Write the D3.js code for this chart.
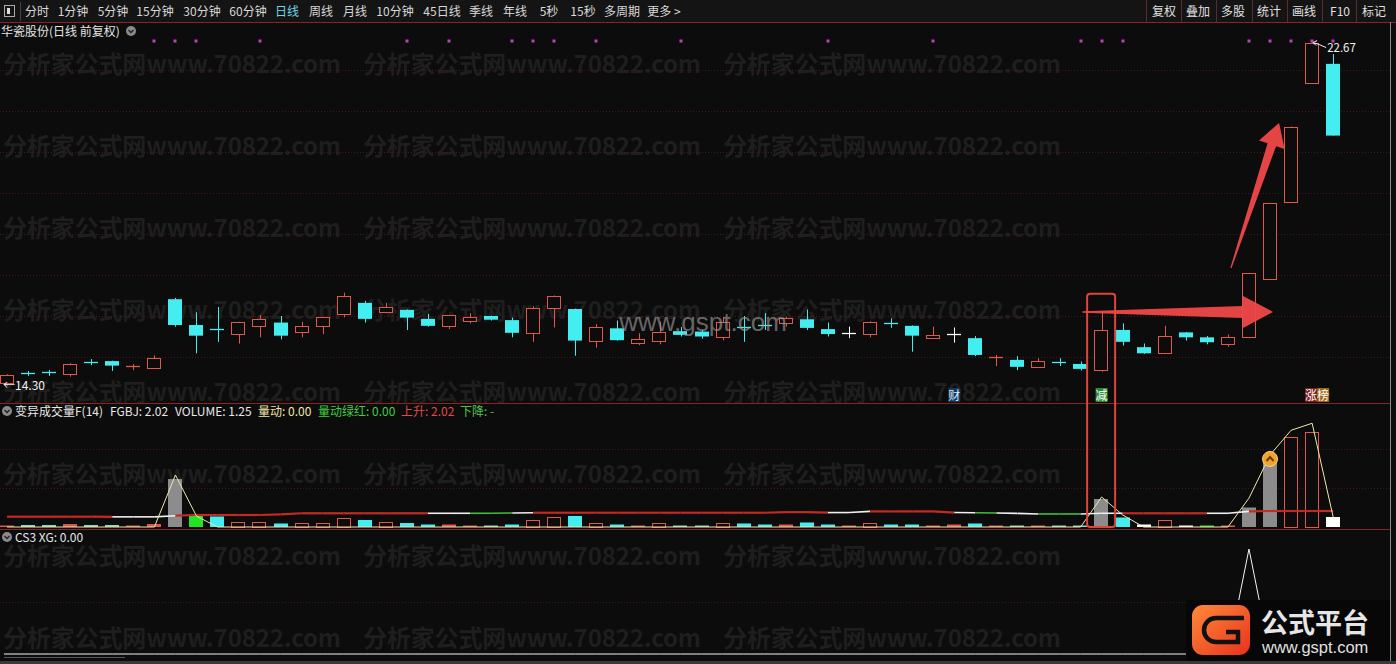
<!DOCTYPE html>
<html><head><meta charset="utf-8">
<script src="https://cdn.jsdelivr.net/npm/d3@7"></script>
<style>html,body{margin:0;padding:0;background:#0c0c0c;overflow:hidden}svg{display:block}</style>
</head><body>
<svg id="c" width="1396" height="664"></svg>
<script>
// ---------------- DATA ----------------
const openP  = [14.37,14.61,14.63,14.60,14.89,14.90,14.76,14.72,16.41,15.78,15.69,15.55,15.76,15.84,15.62,15.76,16.07,16.32,16.10,16.15,15.93,15.74,15.89,16.00,15.90,15.58,16.19,16.17,15.37,15.70,15.35,15.41,15.63,15.62,15.50,15.73,15.79,15.82,15.92,15.68,15.59,15.56,15.83,15.76,15.46,15.56,15.46,14.98,14.93,14.75,14.89,14.83,14.68,15.66,15.24,15.09,15.60,15.48,15.33,15.49,16.90,18.79,21.68,22.15];
const highP  = [14.58,14.66,14.68,14.85,14.95,14.91,14.83,15.04,16.44,16.09,16.22,15.86,16.02,16.00,15.86,15.98,16.57,16.37,16.32,16.16,16.05,16.03,16.07,16.01,15.96,16.24,16.50,16.18,15.80,15.89,15.58,15.86,15.73,15.66,15.97,16.00,16.07,15.98,16.16,15.84,15.74,15.87,15.94,15.77,15.74,15.72,15.51,15.05,15.02,14.97,14.97,14.89,16.10,15.82,15.33,15.76,15.61,15.51,15.55,17.05,18.76,20.62,22.67,22.39];
const lowP   = [14.30,14.54,14.54,14.52,14.80,14.66,14.68,14.72,15.74,15.09,15.37,15.33,15.48,15.43,15.48,15.56,15.97,15.84,16.07,15.66,15.74,15.68,15.82,15.89,15.48,15.37,15.72,15.03,15.23,15.40,15.29,15.31,15.50,15.45,15.41,15.37,15.66,15.74,15.66,15.50,15.46,15.48,15.71,15.13,15.45,15.35,15.02,14.78,14.68,14.74,14.78,14.67,14.64,15.28,15.08,15.08,15.40,15.31,15.25,15.46,16.90,18.79,21.68,20.40];
const closeP = [14.56,14.60,14.62,14.84,14.88,14.79,14.78,14.97,15.78,15.52,15.68,15.85,15.92,15.52,15.76,15.97,16.50,15.93,16.21,15.96,15.76,16.02,15.98,15.91,15.59,16.19,16.49,15.40,15.72,15.41,15.44,15.62,15.54,15.50,15.86,15.71,15.77,15.94,15.71,15.56,15.59,15.86,15.81,15.52,15.54,15.56,15.05,15.00,14.76,14.90,14.88,14.71,15.66,15.37,15.09,15.51,15.48,15.36,15.50,17.05,18.76,20.62,22.65,20.40];
const priceGrid = [15,16,17,18,19,20,21,22];
const signalDots = [7,8,9,12,19,21,24,25,26,28,32,39,44,51,52,53,59,60,61,62,63];
const eventIdx  = [45,52,62];
const eventText = ["财","减","涨榜"];

const volume = [0.19,0.26,0.26,0.38,0.26,0.26,0.19,0.38,6.15,1.54,1.35,0.64,0.64,0.45,0.45,0.51,1.15,0.90,0.64,0.51,0.32,0.32,0.19,0.19,0.32,0.90,1.28,1.41,0.45,0.32,0.19,0.45,0.19,0.19,0.51,0.45,0.32,0.32,0.58,0.32,0.19,0.45,0.32,0.32,0.19,0.32,0.45,0.19,0.19,0.13,0.19,0.19,3.59,1.22,0.32,0.90,0.19,0.19,0.13,2.50,8.85,11.54,12.18,1.28];
const volType = ["up","pale","pale","up","pale","pale","upf","up","big","grn",
 "down","up","up","down","up","up","up","down","up","down",
 "down","up","upf","pale","down","up","up","down","up","down",
 "upf","up","pale","pale","up","down","down","up","down","down",
 "upf","up","down","down","upf","up","down","upf","pale","upf",
 "pale","pale","big","down","wht","up","wht","grn","upf","big",
 "big","up","up","wht"];
const volMA = [1.32,1.32,1.32,1.32,1.32,1.30,1.30,1.30,1.45,1.54,1.54,1.54,1.54,1.62,1.76,1.76,1.76,1.76,1.76,1.76,1.76,1.76,1.76,1.76,1.80,1.83,1.83,1.83,1.83,1.83,1.83,1.83,1.83,1.83,1.83,1.83,1.83,1.90,1.90,1.85,1.85,2.00,2.00,2.00,2.00,1.85,1.83,1.80,1.75,1.67,1.67,1.67,1.76,1.76,1.76,1.76,1.76,1.76,1.76,2.00,2.05,2.05,2.05,2.05];
const volMAColor = ["r","r","r","r","r","r","w","w","w","r","r","r","r","r","r","r","r","r","r","r","r","w","w","g","g","w","r","r","r","r","r","r","r","r","r","r","r","r","r","r","w","w","r","r","r","r","w","g","w","w","g","g","w","w","r","r","r","r","w","w","r","r","r","r"];
const ratioLine = [0,0,0,0,0,0,0,0,6.67,1.4,0,0,0,0,0,0,0,0,0,0,0,0,0,0,0,0,0,0,0,0,0,0,0,0,0,0,0,0,0,0,0,0,0,0,0,0,0,0,0,0,0,0,3.85,1.54,0,0,0,0,0,3.7,9.23,12.4,13.3,1.28];
const volGrid = [5,10];
const volSignalIdx = [60];
const cs3 = [0,0,0,0,0,0,0,0,0,0,0,0,0,0,0,0,0,0,0,0,0,0,0,0,0,0,0,0,0,0,0,0,0,0,0,0,0,0,0,0,0,0,0,0,0,0,0,0,0,0,0,0,0,0,0,0,0,0,0,1,0,0,0,0];
const cs3Grid = [0.5];

const periodTabs = ["分时","1分钟","5分钟","15分钟","30分钟","60分钟","日线","周线","月线","10分钟","45日线","季线","年线","5秒","15秒","多周期","更多 >"];
const toolTabs = ["复权","叠加","多股","统计","画线","F10","标记"];
const watermark = "分析家公式网www.70822.com";

// ---------------- LAYOUT ----------------
const W=1396, BG="#0c0c0c", UP="#e0584c", DOWN="#44eef0", FLAT="#ffffff";
const FONT="'Noto Sans CJK SC','Noto Sans',sans-serif";
const tabX = [37,73,113,155,202,248,287,321,355,395,442,481,515,549,583,622,664];
const toolX = [1164,1198,1233,1269,1304,1340,1374];
const toolSep = [1146,1181,1216,1252,1287,1322,1356];

const svg = d3.select("#c");
svg.append("rect").attr("width",W).attr("height",664).attr("fill",BG);

const n = openP.length;
const x = d3.scaleBand().domain(d3.range(n)).range([-3.5,1343.7]).paddingInner(0.32).paddingOuter(0.16);
const cx = i => x(i) + x.bandwidth()/2;
const yP = d3.scaleLinear().domain([15,22]).range([357,70]);
const yV = d3.scaleLinear().domain([0,15]).range([527,410]);
const yC = d3.scaleLinear().domain([0,1]).range([654,549]);

// watermarks
const wm = svg.append("g").attr("font-family",FONT).attr("font-size",24).attr("fill","#1e1e1e").attr("font-weight","bold");
for (let r=0;r<8;r++) for (let c=0;c<3;c++)
  wm.append("text").attr("x",3+c*360).attr("y",64+r*82+9).attr("textLength",338).text(watermark);

// toolbar
svg.append("rect").attr("x",0).attr("y",0).attr("width",W).attr("height",22).attr("fill","#141414");
svg.append("line").attr("x1",0).attr("x2",W).attr("y1",22.5).attr("y2",22.5).attr("stroke","#8a2424");
svg.append("rect").attr("x",4.5).attr("y",5.5).attr("width",10).attr("height",11).attr("fill","none").attr("stroke","#aaa");
svg.append("rect").attr("x",7).attr("y",8).attr("width",3).attr("height",6).attr("fill","#ddd");
svg.append("line").attr("x1",20.5).attr("x2",20.5).attr("y1",2).attr("y2",21).attr("stroke","#444");
svg.append("g").attr("font-family",FONT).attr("font-size",12).attr("text-anchor","middle")
 .selectAll("text").data(periodTabs).join("text")
 .attr("x",(d,i)=>tabX[i]).attr("y",16).attr("fill",d=>d==="日线"?"#6fd6e8":"#d8d8d8").text(d=>d);
svg.append("g").selectAll("line").data(toolSep).join("line")
 .attr("x1",d=>d+0.5).attr("x2",d=>d+0.5).attr("y1",0).attr("y2",22).attr("stroke","#5a2c2c");
svg.append("g").attr("font-family",FONT).attr("font-size",12).attr("text-anchor","middle")
 .selectAll("text").data(toolTabs).join("text")
 .attr("x",(d,i)=>toolX[i]).attr("y",16).attr("fill","#e0e0e0").text(d=>d);

// panel separators
[403.5,529.5].forEach(y=>svg.append("line").attr("x1",0).attr("x2",1390).attr("y1",y).attr("y2",y).attr("stroke","#8a2424"));
svg.append("line").attr("x1",1390.5).attr("x2",1390.5).attr("y1",22).attr("y2",661).attr("stroke","#8a8a8a");
svg.append("rect").attr("x",0).attr("y",661).attr("width",W).attr("height",3).attr("fill","#3a3a3a");

// gridlines
const grid = svg.append("g").attr("stroke","#4a1818").attr("stroke-dasharray","1,2");
priceGrid.forEach(p=>grid.append("line").attr("x1",0).attr("x2",1390).attr("y1",Math.round(yP(p))+0.5).attr("y2",Math.round(yP(p))+0.5));
volGrid.forEach(v=>grid.append("line").attr("x1",0).attr("x2",1390).attr("y1",Math.round(yV(v))+0.5).attr("y2",Math.round(yV(v))+0.5));
cs3Grid.forEach(v=>grid.append("line").attr("x1",0).attr("x2",1390).attr("y1",Math.round(yC(v))+0.5).attr("y2",Math.round(yC(v))+0.5));

// titles
function icon(g,xx,yy){
  g.append("circle").attr("cx",xx).attr("cy",yy).attr("r",5).attr("fill","#8a8a8a");
  g.append("path").attr("d",`M${xx-2.5},${yy-1}L${xx},${yy+1.5}L${xx+2.5},${yy-1}`).attr("fill","none").attr("stroke","#222").attr("stroke-width",1.4);
}
svg.append("text").attr("x",1).attr("y",36).attr("font-family",FONT).attr("font-size",12).attr("fill","#e4e4e4").text("华瓷股份(日线 前复权)");
icon(svg,131,31);
const vt = [["变异成交量F(14)",15,"#e8e8e8"],["FGBJ: 2.02",110,"#e8e8e8"],["VOLUME: 1.25",175,"#e8e8e8"],["量动: 0.00",258,"#f2e6a6"],["量动绿红: 0.00",318,"#3fcf3f"],["上升: 2.02",401,"#e04a4a"],["下降: -",460,"#4fc34f"]];
icon(svg,7,411);
vt.forEach(t=>svg.append("text").attr("x",t[1]).attr("y",416).attr("font-family",FONT).attr("font-size",12).attr("fill",t[2]).text(t[0]));
icon(svg,7,537);
svg.append("text").attr("x",15).attr("y",542).attr("font-family",FONT).attr("font-size",12).attr("fill","#e8e8e8").text("CS3 XG: 0.00");

// signal dots
svg.append("g").selectAll("rect").data(signalDots).join("rect")
 .attr("x",i=>Math.round(cx(i))-1.5).attr("y",39.5).attr("width",3).attr("height",3).attr("fill","#c23cc2");

// candles
const cg = svg.append("g");
const bw = x.bandwidth();
for (let i=0;i<n;i++){
  const o=openP[i], c=closeP[i], col = c>o?UP:(c<o?DOWN:FLAT);
  const xc = Math.round(cx(i))+0.5;
  cg.append("line").attr("x1",xc).attr("x2",xc).attr("y1",yP(highP[i])).attr("y2",yP(lowP[i])).attr("stroke",col);
  const top=yP(Math.max(o,c)), bot=yP(Math.min(o,c));
  const x0 = Math.round(x(i));
  if (bot-top < 1.5){
    cg.append("line").attr("x1",x0).attr("x2",x0+Math.round(bw)).attr("y1",Math.round((top+bot)/2)+0.5).attr("y2",Math.round((top+bot)/2)+0.5).attr("stroke",col).attr("stroke-width",1.3);
  } else if (c>o){
    cg.append("rect").attr("x",x0+0.5).attr("y",Math.round(top)+0.5).attr("width",Math.round(bw)-1).attr("height",Math.round(bot-top)).attr("fill",BG).attr("stroke",col);
  } else {
    cg.append("rect").attr("x",x0).attr("y",top).attr("width",Math.round(bw)).attr("height",bot-top).attr("fill",col);
  }
}
// high / low markers
const hiI = d3.maxIndex(highP), loI = d3.minIndex(lowP);
svg.append("text").attr("x",Math.max(2,cx(loI)-4)).attr("y",yP(lowP[loI])+4).attr("font-family",FONT).attr("font-size",12).attr("fill","#f0f0f0").text("←"+lowP[loI].toFixed(2));
const hx = cx(hiI)+1, hy = yP(highP[hiI]);
svg.append("path").attr("d",`M${hx+13},${hy+5}L${hx+6},${hy+2}L${hx},${hy}M${hx},${hy}L${hx+4},${hy-2}M${hx},${hy}L${hx+3},${hy+3}`).attr("stroke","#f0f0f0").attr("fill","none");
svg.append("text").attr("x",hx+14).attr("y",hy+9).attr("font-family",FONT).attr("font-size",11.5).attr("fill","#f0f0f0").text(highP[hiI].toFixed(2));

// event labels
const evBg = {"财":"#16385a","减":"#2e8a2e","涨":"#7a2020","榜":"#9a6a1a"};
const evFg = {"财":"#d8f0ff","减":"#ffffff","涨":"#ffffff","榜":"#ffffff"};
eventIdx.forEach((idx,k)=>{
  const chars = eventText[k].split("");
  const startX = cx(idx) - (chars.length>1 ? 1 : 0) - 6;
  chars.forEach((ch,j)=>{
    const xx = startX + j*12;
    svg.append("rect").attr("x",xx).attr("y",388).attr("width",12).attr("height",14).attr("fill",evBg[ch]);
    svg.append("text").attr("x",xx+6).attr("y",400).attr("text-anchor","middle").attr("font-family",FONT).attr("font-size",12).attr("fill",evFg[ch]).text(ch);
  });
});

// gspt watermark
svg.append("text").attr("x",703).attr("y",331).attr("text-anchor","middle").attr("font-family","'Liberation Sans',Arial,sans-serif").attr("font-size",26).attr("fill","#a0a0a0").attr("opacity",0.6).text("www.gspt.com");

// volume bars
const VC = {up:UP, upf:"#d8604f", down:DOWN, pale:"#8fd6bf", big:"#8c8c8c", grn:"#22e622", wht:"#ffffff"};
const vg = svg.append("g");
for (let i=0;i<n;i++){
  const t = volType[i], top = yV(volume[i]), h = Math.max(1.5, 527-top);
  const x0 = Math.round(x(i));
  if (t==="up" && h>3){
    vg.append("rect").attr("x",x0+0.5).attr("y",Math.round(527-h)+0.5).attr("width",Math.round(bw)-1).attr("height",Math.round(h)).attr("fill",BG).attr("stroke",VC[t]);
  } else {
    vg.append("rect").attr("x",x0).attr("y",527-h).attr("width",Math.round(bw)).attr("height",h).attr("fill",VC[t]);
  }
}
// MA line coloured per segment
const MC = {r:"#c42a24", w:"#f0f0f0", g:"#3fbf3f"};
for (let i=1;i<n;i++){
  vg.append("line").attr("x1",cx(i-1)).attr("x2",cx(i)).attr("y1",yV(volMA[i-1])).attr("y2",yV(volMA[i]))
    .attr("stroke",MC[volMAColor[i]]).attr("stroke-width",volMAColor[i]==="r"?2.2:1.6);
}
// ratio line
vg.append("path").datum(ratioLine).attr("fill","none").attr("stroke","#efe7ad").attr("stroke-width",1)
  .attr("d",d3.line().x((d,i)=>cx(i)).y(d=>yV(d)));
// signal icon
volSignalIdx.forEach(i=>{
  const xx=cx(i), yy=yV(volume[i]);
  vg.append("circle").attr("cx",xx).attr("cy",yy+1).attr("r",7.5).attr("fill","#f0a428").attr("stroke","#ffd27a").attr("stroke-width",1);
  vg.append("path").attr("d",`M${xx-3.5},${yy+3}L${xx},${yy-1}L${xx+3.5},${yy+3}`).attr("fill","none").attr("stroke","#6a3a00").attr("stroke-width",2);
});

// CS3 line
svg.append("path").datum(cs3).attr("fill","none").attr("stroke","#f4f4f4").attr("stroke-width",1)
  .attr("d",d3.line().x((d,i)=>cx(i)).y(d=>yC(d)));
svg.append("line").attr("x1",4).attr("x2",cx(0)).attr("y1",yC(0)).attr("y2",yC(0)).attr("stroke","#f4f4f4");
svg.append("line").attr("x1",4).attr("x2",125).attr("y1",657.5).attr("y2",657.5).attr("stroke","#555");

// annotations: box + arrows
const boxI = 52;
svg.append("rect").attr("x",cx(boxI)-14.5).attr("y",yP(16.54)).attr("width",28).attr("height",527-yP(16.54))
  .attr("rx",3).attr("fill","none").attr("stroke","#e0443c").attr("stroke-width",2);
function arrow(x1,y1,x2,y2,tw,sw,hw,hl){
  const dx=x2-x1, dy=y2-y1, L=Math.hypot(dx,dy), ux=dx/L, uy=dy/L, nx=-uy, ny=ux;
  const bx=x2-ux*hl, by=y2-uy*hl;
  const p=[[x1+nx*tw/2,y1+ny*tw/2],[bx+nx*sw/2,by+ny*sw/2],[bx+nx*hw/2,by+ny*hw/2],[x2,y2],
           [bx-nx*hw/2,by-ny*hw/2],[bx-nx*sw/2,by-ny*sw/2],[x1-nx*tw/2,y1-ny*tw/2]];
  svg.append("path").attr("d","M"+p.map(q=>q.join(",")).join("L")+"Z").attr("fill","#f04848").attr("opacity",0.95);
}
arrow(cx(51)+2, yP(16.10), cx(60)+3, yP(16.10), 1.5, 12, 32, 30);
arrow(cx(58)+3, yP(17.17), cx(61)-12, yP(20.71), 1.2, 9, 27, 23);

// logo
const lg = svg.append("g");
lg.append("rect").attr("x",1186).attr("y",600).attr("width",204).attr("height",61).attr("fill","#070707");
const grad = svg.append("defs").append("linearGradient").attr("id","lgo").attr("x1",0).attr("y1",0).attr("x2",1).attr("y2",1);
grad.append("stop").attr("offset","0%").attr("stop-color","#ff8a3a");
grad.append("stop").attr("offset","100%").attr("stop-color","#e8321c");
lg.append("rect").attr("x",1192).attr("y",605).attr("width",58).attr("height",50).attr("rx",11).attr("fill","url(#lgo)");
lg.append("path").attr("d","M1244,618H1216A12,12 0 0 0 1216,642H1238V632H1226").attr("fill","none").attr("stroke","#111").attr("stroke-width",4.5);
lg.append("text").attr("x",1261).attr("y",633).attr("font-family",FONT).attr("font-size",27).attr("font-weight","bold").attr("fill","#e6e6e6").text("公式平台");
lg.append("text").attr("x",1262).attr("y",653).attr("font-family","'Liberation Sans',Arial,sans-serif").attr("font-size",16.5).attr("fill","#e0e0e0").text("www.gspt.com");
</script>
</body></html>
